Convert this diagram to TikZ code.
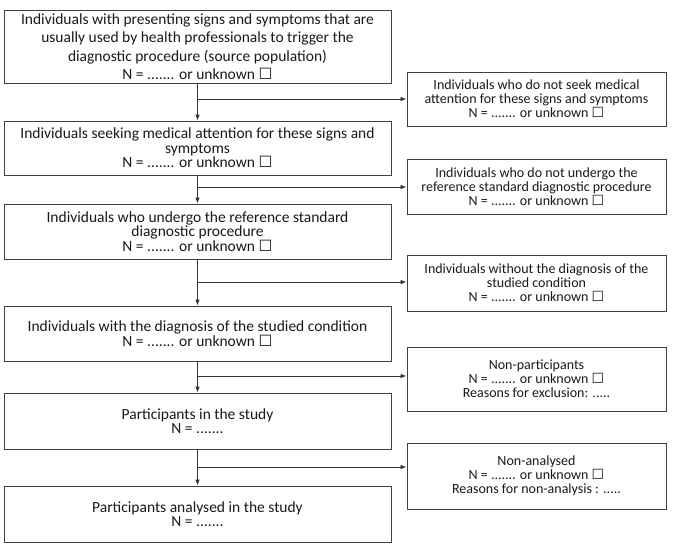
\documentclass[tikz,border=0pt]{standalone}
\usepackage{fontspec}
\setmainfont{Carlito}
\newfontfamily\symfont{DejaVu Sans}
\usetikzlibrary{arrows.meta,positioning,calc}
\newcommand{\tickbox}{{\symfont\char"2610}}
\newcommand{\countline}{N = ....... or unknown \tickbox}

\begin{document}
\begin{tikzpicture}[x=1pt,y=-1pt,
  mainbox/.style={draw=black!75, line width=0.8pt, minimum width=387pt, inner sep=2pt,
    align=center, text=black!90, font=\fontsize{15.5}{14.5}\selectfont},
  sidebox/.style={draw=black!75, line width=0.8pt, minimum width=259pt, inner sep=2pt,
    align=center, text=black!90, font=\fontsize{14}{14}\selectfont},
  flow/.style={draw=black!80, line width=0.8pt, -{Latex[length=6pt,width=4.5pt]}}]
\useasboundingbox (0,0) rectangle (675,549);

% main column
\node[mainbox, minimum height=73pt] (source) at (197.5,46.5) {
    Individuals with presenting signs and symptoms that are\\[4pt]
    usually used by health professionals to trigger the\\[4pt]
    diagnostic procedure (source population)\\[4pt]
    \countline};
\node[mainbox, minimum height=54pt] (seeking) at (197.5,148) {
    Individuals seeking medical attention for these signs and\\
    symptoms\\
    \countline};
\node[mainbox, minimum height=55pt] (undergo) at (197.5,231.5) {
    Individuals who undergo the reference standard\\
    diagnostic procedure\\
    \countline};
\node[mainbox, minimum height=55pt] (diagnosed) at (197.5,333.5) {
    Individuals with the diagnosis of the studied condition\\
    \countline};
\node[mainbox, minimum height=56pt] (participants) at (197.5,421) {
    Participants in the study\\
    N = .......};
\node[mainbox, minimum height=56pt] (analysed) at (197.5,514) {
    Participants analysed in the study\\
    N = .......};

% side column
\node[sidebox, minimum height=54pt] (noseek) at (536.5,99) {
    Individuals who do not seek medical\\
    attention for these signs and symptoms\\
    \countline};
\node[sidebox, minimum height=55pt] (noref) at (536.5,186.5) {
    Individuals who do not undergo the\\
    reference standard diagnostic procedure\\
    \countline};
\node[sidebox, minimum height=56pt] (nodiag) at (536.5,283) {
    Individuals without the diagnosis of the\\
    studied condition\\
    \countline};
\node[sidebox, minimum height=64pt] (nonpart) at (536.5,379) {
    Non-participants\\
    \countline\\
    Reasons for exclusion: .....};
\node[sidebox, minimum height=66pt] (nonanal) at (536.5,476) {
    Non-analysed\\
    \countline\\
    Reasons for non-analysis : .....};

% junctions on the main line
\coordinate (j1) at (198,99);
\coordinate (j2) at (198,187);
\coordinate (j3) at (198,282);
\coordinate (j4) at (198,376);
\coordinate (j5) at (198,467);

\draw[flow] (source.south) -- (seeking.north);
\draw[flow] (seeking.south) -- (undergo.north);
\draw[flow] (undergo.south) -- (diagnosed.north);
\draw[flow] (diagnosed.south) -- (participants.north);
\draw[flow] (participants.south) -- (analysed.north);

\draw[flow] (j1) -- (j1 -| noseek.west);
\draw[flow] (j2) -- (j2 -| noref.west);
\draw[flow] (j3) -- (j3 -| nodiag.west);
\draw[flow] (j4) -- (j4 -| nonpart.west);
\draw[flow] (j5) -- (j5 -| nonanal.west);
\end{tikzpicture}
\end{document}
